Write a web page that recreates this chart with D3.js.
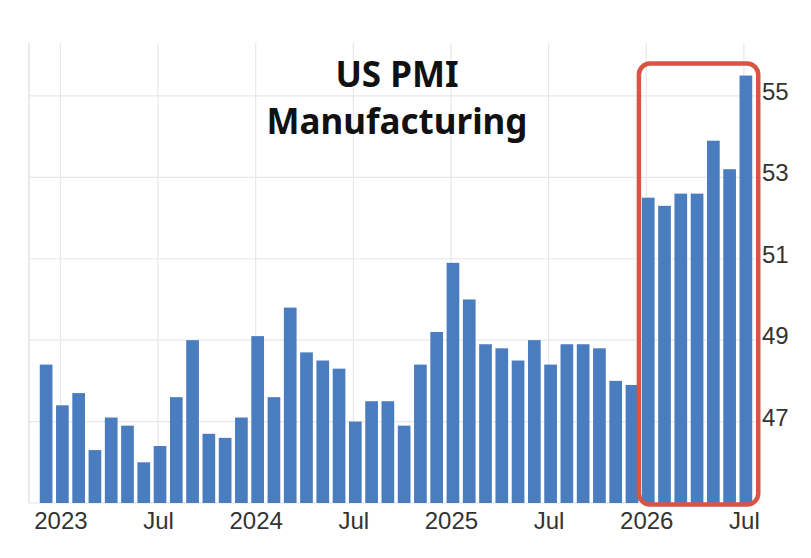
<!DOCTYPE html>
<html lang="en">
  <head>
    <meta charset="utf-8">
    <title>US PMI Manufacturing</title>
    <script src="https://d3js.org/d3.v7.min.js"></script>
    <style>
      body { margin: 0; background: #fff; }
    </style>
  </head>
  <body>
    <script type="text/javascript">
      // months shown, Dec 2022 .. Jul 2026
      const months = [
        "2022-12",
        "2023-01","2023-02","2023-03","2023-04","2023-05","2023-06",
        "2023-07","2023-08","2023-09","2023-10","2023-11","2023-12",
        "2024-01","2024-02","2024-03","2024-04","2024-05","2024-06",
        "2024-07","2024-08","2024-09","2024-10","2024-11","2024-12",
        "2025-01","2025-02","2025-03","2025-04","2025-05","2025-06",
        "2025-07","2025-08","2025-09","2025-10","2025-11","2025-12",
        "2026-01","2026-02","2026-03","2026-04","2026-05","2026-06","2026-07"
      ];

      const pmi = [
        48.4,
        47.4, 47.7, 46.3, 47.1, 46.9, 46.0,
        46.4, 47.6, 49.0, 46.7, 46.6, 47.1,
        49.1, 47.6, 49.8, 48.7, 48.5, 48.3,
        47.0, 47.5, 47.5, 46.9, 48.4, 49.2,
        50.9, 50.0, 48.9, 48.8, 48.5, 49.0,
        48.4, 48.9, 48.9, 48.8, 48.0, 47.9,
        52.5, 52.3, 52.6, 52.6, 53.9, 53.2, 55.5
      ];

      const xTickMonths = ["2023-01","2023-07","2024-01","2024-07","2025-01","2025-07","2026-01","2026-07"];
      const xTickLabels = ["2023","Jul","2024","Jul","2025","Jul","2026","Jul"];
      const yTicks = [47, 49, 51, 53, 55];

      const highlightMonths = ["2026-01", "2026-07"];

      const titleLines = ["US PMI", "Manufacturing"];

      const svgWidth = 811;
      const svgHeight = 558;

      const plotLeft = 29;
      const plotRight = 761;
      const plotTop = 43;
      const plotBottom = 503;

      const barColor = "#4a7cc0";
      const gridColor = "#e8e8e8";
      const boxColor = "#d65545";
      const labelFont = "'Liberation Sans', Arial, sans-serif";
      const titleFont = "'Noto Sans', sans-serif";

      const data = months.map((m, i) => ({month: m, value: pmi[i]}));

      var svg = d3.select("body")
        .append("svg")
        .attr("width", svgWidth)
        .attr("height", svgHeight);

      var xScale = d3.scaleBand()
        .domain(months)
        .range([30, 762])
        .paddingInner(0.22)
        .paddingOuter(0.6);

      var yScale = d3.scaleLinear()
        .domain([45, 56.3])
        .range([plotBottom, plotTop]);

      const tickX = m => xScale(m) + xScale.bandwidth() / 2 - 2;

      // grid
      var grid = svg.append("g").attr("class", "grid");

      grid.selectAll("line.h")
        .data(yTicks)
        .enter()
        .append("line")
        .attr("class", "h")
        .attr("x1", plotLeft)
        .attr("x2", plotRight)
        .attr("y1", d => yScale(d))
        .attr("y2", d => yScale(d))
        .attr("stroke", gridColor)
        .attr("stroke-width", 1.2);

      grid.selectAll("line.v")
        .data(xTickMonths)
        .enter()
        .append("line")
        .attr("class", "v")
        .attr("x1", d => tickX(d))
        .attr("x2", d => tickX(d))
        .attr("y1", plotTop)
        .attr("y2", plotBottom)
        .attr("stroke", gridColor)
        .attr("stroke-width", 1.2);

      grid.append("line")
        .attr("x1", plotLeft)
        .attr("x2", plotLeft)
        .attr("y1", plotTop)
        .attr("y2", plotBottom)
        .attr("stroke", "#e3e3e3")
        .attr("stroke-width", 1.5);

      grid.append("line")
        .attr("x1", plotLeft)
        .attr("x2", plotRight)
        .attr("y1", plotBottom)
        .attr("y2", plotBottom)
        .attr("stroke", "#e3e3e3")
        .attr("stroke-width", 1.2);

      // bars
      svg.append("g")
        .attr("class", "bars")
        .selectAll("rect")
        .data(data)
        .enter()
        .append("rect")
        .attr("x", d => xScale(d.month))
        .attr("y", d => yScale(d.value))
        .attr("width", xScale.bandwidth())
        .attr("height", d => yScale(45) - yScale(d.value))
        .attr("fill", barColor);

      // y labels on the right
      svg.append("g")
        .attr("class", "y-labels")
        .selectAll("text")
        .data(yTicks)
        .enter()
        .append("text")
        .attr("x", 762)
        .attr("y", d => yScale(d) + 4)
        .attr("font-family", labelFont)
        .attr("font-size", "24px")
        .attr("fill", "#333")
        .text(d => d);

      // x labels
      svg.append("g")
        .attr("class", "x-labels")
        .selectAll("text")
        .data(xTickMonths)
        .enter()
        .append("text")
        .attr("x", d => tickX(d) + 0.5)
        .attr("y", 529)
        .style("text-anchor", "middle")
        .attr("font-family", labelFont)
        .attr("font-size", "24px")
        .attr("fill", "#333")
        .text((d, i) => xTickLabels[i]);

      // highlight box round the 2026 bars
      const boxX0 = xScale(highlightMonths[0]) - 3;
      const boxX1 = xScale(highlightMonths[1]) + xScale.bandwidth() + 6;
      const boxY0 = yScale(55.5) - 12;
      const boxY1 = yScale(45) + 1.5;

      svg.append("rect")
        .attr("x", boxX0)
        .attr("y", boxY0)
        .attr("width", boxX1 - boxX0)
        .attr("height", boxY1 - boxY0)
        .attr("rx", 11)
        .attr("ry", 11)
        .attr("fill", "none")
        .attr("stroke", boxColor)
        .attr("stroke-width", 4.5);

      // title
      svg.append("g")
        .attr("class", "title")
        .selectAll("text")
        .data(titleLines)
        .enter()
        .append("text")
        .attr("x", 397)
        .attr("y", (d, i) => 87 + i * 47)
        .style("text-anchor", "middle")
        .attr("font-family", titleFont)
        .attr("font-size", "35px")
        .attr("font-weight", "700")
        .attr("fill", "#111")
        .text(d => d);
    </script>
  </body>
</html>
